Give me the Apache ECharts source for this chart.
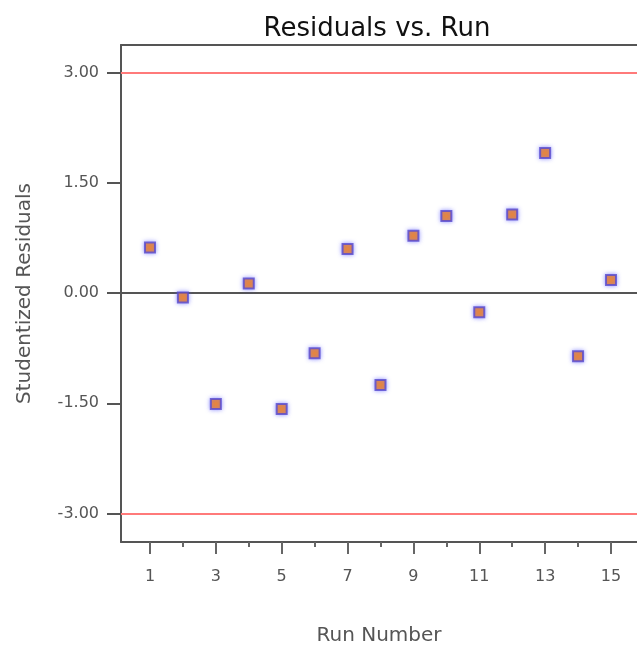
<!DOCTYPE html>
<html>
<head>
<meta charset="utf-8">
<script src="https://cdn.jsdelivr.net/npm/echarts@6/dist/echarts.min.js"></script>
<style>
  html, body { margin: 0; padding: 0; background: #fff; }
  #chart { width: 637px; height: 651px; }
</style>
</head>
<body>
<div id="chart"></div>
<script>
// Studentized residuals by run order
const runs = [1, 2, 3, 4, 5, 6, 7, 8, 9, 10, 11, 12, 13, 14, 15];
const residuals = [0.62, -0.06, -1.51, 0.13, -1.58, -0.82, 0.60, -1.25, 0.78, 1.05, -0.26, 1.07, 1.91, -0.86, 0.18];
const yTickValues = [-3, -1.5, 0, 1.5, 3];
const xLabelValues = [1, 3, 5, 7, 9, 11, 13, 15];
const xMinorValues = [2, 4, 6, 8, 10, 12, 14];
const limitValues = [3, -3];

const font = 'DejaVu Sans, Verdana, sans-serif';
const chart = echarts.init(document.getElementById('chart'), null, { renderer: 'canvas' });

// the plot frame runs on past the right edge of the page, so only
// left, bottom and top edges are drawn
const xBase = {
  type: 'value',
  min: 0.12,
  max: 15.79,
  splitLine: { show: false }
};

chart.setOption({
  animation: false,
  backgroundColor: '#ffffff',
  title: {
    text: 'Residuals vs. Run',
    left: 372,
    textAlign: 'center',
    top: 11,
    textStyle: { fontFamily: font, fontSize: 26, fontWeight: 'normal', color: '#111' }
  },
  grid: { left: 121, top: 45, right: 0, bottom: 107, show: false },
  xAxis: [
    Object.assign({}, xBase, {
      position: 'bottom',
      name: 'Run Number',
      nameLocation: 'middle',
      nameGap: 84,
      nameTextStyle: { fontFamily: font, fontSize: 20, color: '#555' },
      axisLine: { show: true, onZero: false, lineStyle: { color: '#555', width: 2 } },
      axisTick: { show: true, length: 12, customValues: runs.filter(r => r % 2 === 1), lineStyle: { color: '#666', width: 2 } },
      axisLabel: { customValues: xLabelValues, margin: 27, fontFamily: font, fontSize: 16, color: '#555', formatter: v => String(v) }
    }),
    Object.assign({}, xBase, {
      position: 'bottom',
      axisLine: { show: false, onZero: false },
      axisTick: { show: true, length: 5, customValues: xMinorValues, lineStyle: { color: '#666', width: 2 } },
      axisLabel: { show: false }
    }),
    Object.assign({}, xBase, {
      position: 'top',
      axisLine: { show: true, onZero: false, lineStyle: { color: '#555', width: 2 } },
      axisTick: { show: false },
      axisLabel: { show: false }
    })
  ],
  yAxis: {
    type: 'value',
    min: -3.39,
    max: 3.38,
    name: 'Studentized Residuals',
    nameLocation: 'middle',
    nameGap: 86,
    nameTextStyle: { fontFamily: font, fontSize: 20, color: '#555' },
    axisLine: { show: true, onZero: false, lineStyle: { color: '#555', width: 2 } },
    axisTick: { show: true, length: 14, customValues: yTickValues, lineStyle: { color: '#555', width: 2 } },
    axisLabel: { customValues: yTickValues, margin: 22, fontFamily: font, fontSize: 16, color: '#555', formatter: v => v.toFixed(2) },
    splitLine: { show: false }
  },
  series: [{
    type: 'scatter',
    xAxisIndex: 0,
    data: runs.map((r, i) => [r, residuals[i]]),
    symbol: 'rect',
    symbolSize: 10,
    itemStyle: {
      color: '#ff7f00',
      borderColor: '#5548d0',
      borderWidth: 2,
      shadowBlur: 4,
      shadowColor: 'rgba(100,100,255,0.7)'
    },
    z: 5,
    markLine: {
      silent: true,
      symbol: 'none',
      label: { show: false },
      animation: false,
      data: [
        { yAxis: limitValues[0], lineStyle: { color: '#ff7a7a', width: 2, type: 'solid' } },
        { yAxis: limitValues[1], lineStyle: { color: '#ff7a7a', width: 2, type: 'solid' } },
        { yAxis: 0, lineStyle: { color: '#555', width: 2, type: 'solid' } }
      ]
    }
  }]
});
</script>
</body>
</html>
